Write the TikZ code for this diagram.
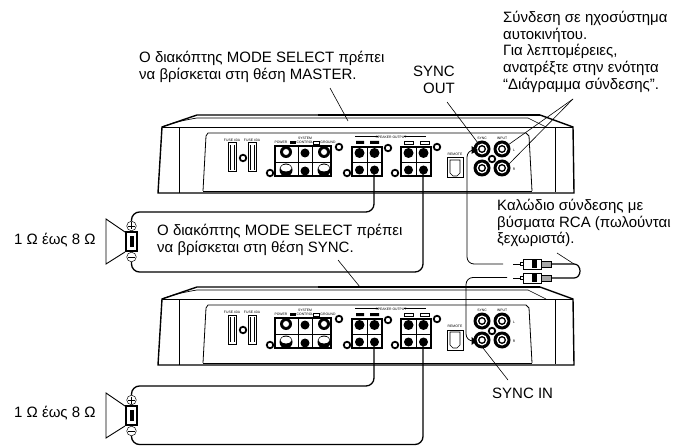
\documentclass[tikz,border=0pt]{standalone}
\usepackage{fontspec}
\setmainfont{Liberation Sans}
\usetikzlibrary{arrows.meta}
\tikzset{
  callout/.style={font=\fontsize{15}{16.7}\selectfont,inner sep=0pt,align=left,anchor=north west},
  tiny/.style={font=\fontsize{3.4}{3.6}\selectfont,inner sep=0pt,align=center},
  leader/.style={line width=.6pt},
  wire/.style={line width=1.3pt,rounded corners=8pt},
  syncwire/.style={line width=.8pt,rounded corners=7pt},
  block/.style={draw,line width=1.4pt,fill=white},
  screw/.style={circle,draw,line width=1.8pt,fill=white,inner sep=0pt,minimum size=6.5pt},
}
% one amplifier, drawn at a vertical shift
\newcommand{\amplifier}[1]{%
\begin{scope}[yshift=-#1pt]
\draw[line width=1.4pt] (158,193) -- (162,127) -- (197,115) -- (540,115) -- (573,127) -- (574,193) -- cycle;
\draw[line width=2.2pt] (318,115) -- (540,115);
\draw[line width=.8pt] (162,127) -- (573,127);
\draw[line width=.7pt] (162,127) .. controls (175,122) and (185,120) .. (197,118) -- (528,118);
\draw[line width=.7pt] (179,127) -- (179,193);
\draw[line width=.8pt] (203,191) -- (206,136) -- (208,133) -- (526,133) -- (529,136) -- (532,191);
\draw[line width=.8pt] (203,191) -- (532,191);
\draw[line width=.7pt] (555,127) -- (555,192);
\draw[line width=.6pt] (528,118) -- (546,127);
% fuses
\draw[line width=1pt] (228,143) rectangle (236,172);
\draw[line width=1pt] (248,143) rectangle (256,172);
\draw[line width=.4pt] (230,145) -- (230,170) (234,145) -- (234,170) (250,145) -- (250,170) (254,145) -- (254,170);
\node[tiny] (fuseA#1) at (232,140) {FUSE 40A};
\node[tiny] (fuseB#1) at (252,140) {FUSE 40A};
\node[tiny] (power#1) at (281,142.5) {POWER};
\node[tiny] (system#1) at (305,140.5) {SYSTEM\\CONTROL};
\node[tiny] (ground#1) at (328,142.5) {GROUND};
\node[tiny] (speaker#1) at (391,137) {SPEAKER OUTPUT};
\node[tiny] (remote#1) at (455,154) {REMOTE};
\node[tiny] (sync#1) at (482,138.5) {SYNC};
\node[tiny] (input#1) at (502,138.5) {INPUT};
\node[tiny] (left#1) at (514,150) {L};
\node[tiny] (right#1) at (514,169) {R};
\draw[line width=.5pt] (355,136.5) -- (378,136.5) (404,136.5) -- (426,136.5);
\fill (356,141) rectangle (364,144) (370,141) rectangle (379,144);
\draw[line width=.8pt] (404,141) rectangle (413,144) (420,141) rectangle (429,144);
\fill (290,141) rectangle (296,144);
\draw[line width=.8pt] (313,141) rectangle (319,144);
% terminal blocks
\draw[block] (275,146) rectangle (331,176);
\draw[line width=.7pt] (275,162) -- (331,162) (298,146) -- (298,176) (312,146) -- (312,176);
\draw[block] (352,147) rectangle (382,176);
\draw[line width=.7pt] (352,162) -- (382,162) (367,147) -- (367,176);
\draw[block] (401,147) rectangle (431,176);
\draw[line width=.7pt] (401,162) -- (431,162) (416,147) -- (416,176);
\fill (286,152) circle[radius=6pt] (305,153) circle[radius=4.5pt] (324,152) circle[radius=6pt];
\filldraw[fill=white,line width=.7pt] (286,152) circle[radius=3.5pt] (324,152) circle[radius=3.5pt];
\fill (286,170) circle[radius=6.5pt] (305,171) circle[radius=4.5pt] (324,170) circle[radius=6.5pt];
\fill[white] (286,168) ellipse[x radius=5.5pt,y radius=3.5pt] (324,168) ellipse[x radius=5.5pt,y radius=3.5pt];
\fill (359.5,153) circle[radius=5pt] (374.5,153) circle[radius=5pt] (408.5,153) circle[radius=5pt] (423.5,153) circle[radius=5pt];
\fill (359.5,170) circle[radius=4.5pt] (374.5,170) circle[radius=4.5pt] (408.5,170) circle[radius=4.5pt] (423.5,170) circle[radius=4.5pt];
% screws
\node[screw] (screwA#1) at (243,158) {};
\node[screw] (screwB#1) at (270,173) {};
\node[screw] (screwC#1) at (339,147) {};
\node[screw] (screwD#1) at (347,173) {};
\node[screw] (screwE#1) at (388,148) {};
\node[screw] (screwF#1) at (395,173) {};
\node[screw] (screwG#1) at (437,147) {};
\node[screw] (screwH#1) at (492,159) {};
% remote socket
\draw[line width=1pt] (447,158) rectangle (463,178);
\draw[line width=.6pt] (450,160) -- (460,160) -- (460,173) -- (457,176) -- (453,176) -- (450,173) -- cycle;
% rca sockets
\foreach \px/\py in {482/149,502/149,482/168,502/168} {
  \fill (\px,\py) circle[radius=8.5pt];
  \fill[white] (\px,\py) circle[radius=5.5pt];
  \draw[line width=1.3pt] (\px,\py) circle[radius=3.3pt];
}
\end{scope}}
% one rca plug on the cable
\newcommand{\rcaplug}[1]{%
\draw[line width=.8pt] (513,#1) -- (523,#1);
\draw[line width=.9pt,fill=white] (520,#1-1.5) rectangle (523,#1+1.5);
\draw[line width=1pt,fill=white] (523,#1-5) rectangle (541,#1+5);
\fill (532,#1-4) rectangle (537,#1+4);
\draw[line width=.6pt,fill=black!35] (541,#1-3) rectangle (551,#1+3);}
% one speaker with both terminals
\newcommand{\speakerbox}[2]{%
\draw[line width=.9pt] (125,#1+13) -- (106,#1) -- (106,#1+45) -- (125,#1+33);
\draw[line width=1.2pt] (126,#1+13) rectangle (137,#1+32);
\fill (129.5,#1+17) rectangle (134,#1+28);
\node[circle,draw,line width=.5pt,inner sep=0pt,minimum size=9.5pt] (#2plus) at (131.5,#1+7) {};
\node[circle,draw,line width=.5pt,inner sep=0pt,minimum size=9.5pt] (#2minus) at (131.5,#1+38) {};
\draw[line width=.5pt] (128,#1+7) -- (135,#1+7) (131.5,#1+3.5) -- (131.5,#1+10.5) (128,#1+38) -- (135,#1+38);}
\begin{document}
\begin{tikzpicture}[x=1pt,y=-1pt]
\useasboundingbox (0,0) rectangle (674,446);
\amplifier{0}
\amplifier{172}
\speakerbox{219}{spkA}
\speakerbox{393}{spkB}
% speaker wires
\coordinate (outAp) at (374,168);
\coordinate (outAm) at (423,168);
\coordinate (outBp) at (374,340);
\coordinate (outBm) at (423,340);
\draw[wire] (spkAplus) -- (131.5,212) -- (374,212) -- (outAp);
\draw[wire] (spkAminus) -- (131.5,272) -- (423,272) -- (outAm);
\draw[wire] (spkBplus) -- (131.5,386) -- (374,386) -- (outBp);
\draw[wire] (spkBminus) -- (131.5,444.5) -- (423,444.5) -- (outBm);
% rca cable
\rcaplug{264}
\rcaplug{278}
\coordinate (plugA) at (551,264);
\coordinate (plugB) at (551,278);
\draw[line width=1.2pt] (plugA) -- (574,264) .. controls (582,264) and (582,278) .. (574,278) -- (plugB);
\coordinate (jackOut) at (472,150);
\coordinate (jackIn) at (472,341);
\coordinate (tipA) at (503,264);
\coordinate (tipB) at (507,277.5);
\draw[syncwire] (tipA) -- (467,264) -- (467,150) -- (jackOut);
\draw[syncwire] (tipB) -- (466,277.5) -- (466,341) -- (jackIn);
\fill (478,150) -- (471.5,146) -- (471.5,154) -- cycle;
\fill (477,341) -- (471.5,337) -- (471.5,345) -- cycle;
% texts
\node[callout] (master) at (139,51) {Ο διακόπτης MODE SELECT πρέπει\\να βρίσκεται στη θέση MASTER.};
\node[callout] (syncmode) at (157,224) {Ο διακόπτης MODE SELECT πρέπει\\να βρίσκεται στη θέση SYNC.};
\node[callout,align=right,anchor=north east] (syncout) at (455,66) {SYNC\\OUT};
\node[callout] (carstereo) at (503,11) {Σύνδεση σε ηχοσύστημα\\αυτοκινήτου.\\Για λεπτομέρειες,\\ανατρέξτε στην ενότητα\\“Διάγραμμα σύνδεσης”.};
\node[callout] (cable) at (497,199) {Καλώδιο σύνδεσης με\\βύσματα RCA (πωλούνται\\ξεχωριστά).};
\node[callout] (syncin) at (492,388) {SYNC IN};
\node[callout] (loadA) at (14,233) {1 Ω έως 8 Ω};
\node[callout] (loadB) at (14,406) {1 Ω έως 8 Ω};
% leader lines
\coordinate (masterEnd) at (348,121);
\coordinate (syncEnd) at (360,287);
\coordinate (outEnd) at (478,143);
\coordinate (inputL) at (508,145);
\coordinate (inputR) at (508,165);
\coordinate (carStart) at (573,99);
\coordinate (inEnd) at (483,348);
\coordinate (cableEnd) at (574,264);
\draw[leader] (330,88) -- (masterEnd);
\draw[leader] (338,260) -- (syncEnd);
\draw[leader] (447,102) -- (outEnd);
\draw[leader] (carStart) -- (inputL);
\draw[leader] (carStart) -- (inputR);
\draw[leader] (508,380) -- (inEnd);
\draw[leader] (557,253) -- (cableEnd);
\end{tikzpicture}
\end{document}
